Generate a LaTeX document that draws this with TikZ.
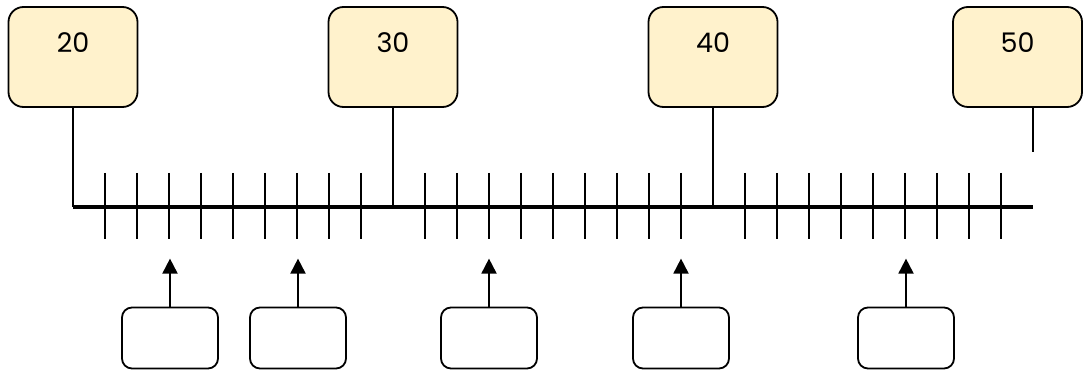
\documentclass[tikz,border=0pt]{standalone}
\usepackage{fontspec}
\setmainfont{Poppins}
\usetikzlibrary{arrows.meta}
\definecolor{boxfill}{HTML}{FFF2CC}
\tikzset{
  topbox/.style={draw=black, line width=1.8pt, fill=boxfill, rounded corners=15pt,
    minimum width=129pt, inner xsep=0pt, inner ysep=0pt, text height=46pt, text depth=54pt,
    font=\fontsize{27}{27}\selectfont},
  botbox/.style={draw=black, line width=1.8pt, fill=white, rounded corners=10pt,
    minimum width=96pt, minimum height=61pt},
  conn/.style={line width=1.8pt},
  axisline/.style={line width=3.4pt},
  tickmark/.style={line width=1.8pt},
  uparrow/.style={line width=1.9pt, -{Triangle[width=15pt,length=15pt]}}
}
\begin{document}
\begin{tikzpicture}[x=1pt,y=-1pt]
\useasboundingbox (0,0) rectangle (1083,371);
% axis
\coordinate (aL) at (73,207);
\coordinate (aR) at (1033,207);
\coordinate (a30) at (393,207);
\coordinate (a40) at (713,207);
% ticks
\foreach \i in {1,...,9,11,12,...,19,21,22,...,29} {
  \draw[tickmark] (73+32*\i,173) -- (73+32*\i,239);
}
\draw[axisline] (aL) -- (aR);
% top boxes
\node[topbox] (b20) at (73,57) {20};
\node[topbox] (b30) at (393,57) {30};
\node[topbox] (b40) at (713,57) {40};
\node[topbox] (b50) at (1017.5,57) {50};
\draw[conn] (b20.south) -- (aL);
\draw[conn] (b30.south) -- (a30);
\draw[conn] (b40.south) -- (a40);
\coordinate (c50) at (1033,152);
\draw[conn] (b50.south -| c50) -- (c50);
% bottom boxes
\node[botbox] (p1) at (170,338) {};
\node[botbox] (p2) at (298,338) {};
\node[botbox] (p3) at (489,338) {};
\node[botbox] (p4) at (681,338) {};
\node[botbox] (p5) at (906,338) {};
\foreach \p in {p1,p2,p3,p4,p5} {
  \draw[uparrow] (\p.north) -- ++(0,-48);
}
\end{tikzpicture}
\end{document}
